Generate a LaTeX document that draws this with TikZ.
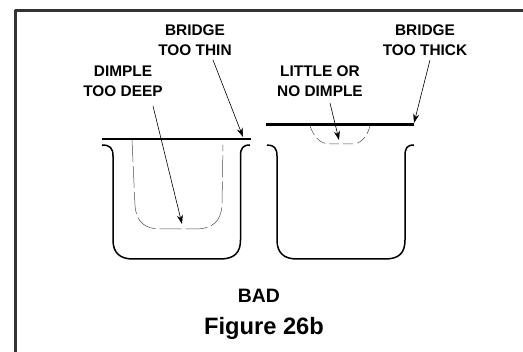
\documentclass[tikz,border=0pt]{standalone}
\usepackage{fontspec}
\setmainfont{Liberation Sans}
\usetikzlibrary{arrows.meta}
\tikzset{
    lbl/.style={font=\fontsize{15.4}{18}\selectfont\bfseries, inner sep=0pt, align=center},
    pointer/.style={->, line width=.6pt},
    cupline/.style={line width=1.5pt},
    dimple/.style={line width=.5pt, dash pattern=on 22pt off 4pt, black!70}
}
\begin{document}
\begin{tikzpicture}[>={Stealth[length=9pt,width=6pt]}, x=1pt, y=-1pt, line join=round, line cap=butt]
            \useasboundingbox (0,0) rectangle (523,352);
            \def\t{145} \def\b{259}
            % frame
            \draw[line width=3pt, black!80] (15,352)--(15,11)--(523,11);
            % labels
            \node[lbl] (thin) at (195,40) {BRIDGE\\[1.6pt]TOO THIN};
            \node[lbl] (deep) at (123,81.5) {DIMPLE\\[1.6pt]TOO DEEP};
            \node[lbl] (little) at (320,81.5) {LITTLE OR\\[1.6pt]NO DIMPLE};
            \node[lbl] (thick) at (425,40) {BRIDGE\\[1.6pt]TOO THICK};
            \node[inner sep=0pt, font=\fontsize{19.4}{22}\selectfont\bfseries] (bad) at (259,296) {BAD};
            \node[inner sep=0pt, font=\fontsize{23.7}{26}\selectfont\bfseries] (fig) at (264,328) {Figure 26b};
            % cups
            \draw[cupline] (102,\t) .. controls (110,\t) and (113,148) .. (113,156)--(113,240)
                .. controls (113,253) and (120,\b) .. (133,\b)--(220,\b)
                .. controls (234,\b) and (240.5,253) .. (240.5,240)--(240.5,156)
                .. controls (240.5,148) and (243,\t) .. (250,\t);
            \draw[cupline] (267,\t) .. controls (274,\t) and (277,148) .. (277,156)--(277,240)
                .. controls (277,253) and (284,\b) .. (297,\b)--(385,\b)
                .. controls (399,\b) and (405,253) .. (405,240)--(405,156)
                .. controls (405,148) and (407,\t) .. (414,\t);
            % bridges
            \coordinate (thinL) at (102,139); \coordinate (thinR) at (251,139);
            \coordinate (thickL) at (266,125); \coordinate (thickR) at (414,125);
            \draw[line width=1.6pt] (thinL)--(thinR);
            \draw[line width=3pt] (thickL)--(thickR);
            % dimples
            \draw[dimple] (132,140)--(135,205) .. controls (136,222) and (145,229) .. (160,229)
                --(195,229) .. controls (212,229) and (221,222) .. (222,205)--(223,145);
            \draw[dimple, dash pattern=on 10pt off 4pt] (310,126) .. controls (314,137) and (320,144) .. (330,144)
                --(352,144) .. controls (361,144) and (367,137) .. (370,126);
            % arrows
            \coordinate (thinA) at (213,60); \coordinate (thinH) at (243,137);
            \coordinate (deepA) at (153,106); \coordinate (deepH) at (182,224);
            \coordinate (littleA) at (330,103); \coordinate (littleH) at (339,140);
            \coordinate (thickA) at (430,60); \coordinate (thickH) at (414,123);
            \draw[pointer] (thinA)--(thinH);
            \draw[pointer] (deepA)--(deepH);
            \draw[pointer] (littleA)--(littleH);
            \draw[pointer] (thickA)--(thickH);
        \end{tikzpicture}
\end{document}
